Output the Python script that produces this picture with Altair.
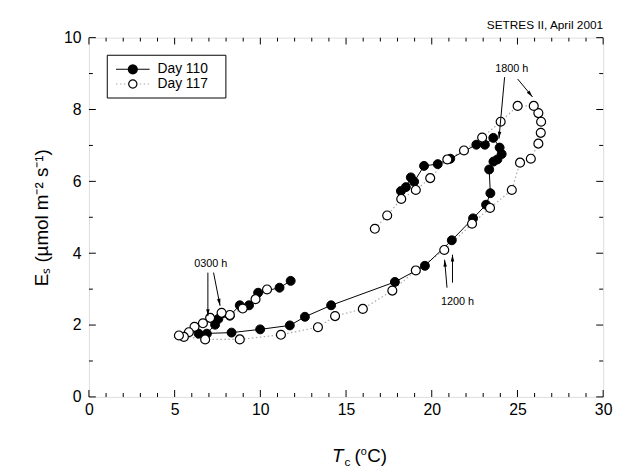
import math
import altair as alt
import pandas as pd

FONT = "Liberation Sans"

# ---- data (canopy temperature Tc in degC, Es in umol m-2 s-1), time order ----
T110 = [11.77, 11.12, 9.87, 9.34, 8.80, 8.22, 7.55, 7.36, 6.88, 6.40,
        8.32, 9.99, 11.72, 12.60, 14.13, 17.85, 19.60, 21.17, 22.41, 23.17,
        23.42, 23.35, 23.60, 23.83, 24.08, 23.96, 23.59, 23.10, 22.60, 21.08,
        20.35, 19.55, 18.97, 18.78, 18.49, 18.20]
E110 = [3.23, 3.04, 2.90, 2.55, 2.55, 2.26, 2.17, 2.01, 1.76, 1.76,
        1.79, 1.88, 1.99, 2.23, 2.55, 3.20, 3.65, 4.36, 4.97, 5.35,
        5.67, 6.33, 6.55, 6.61, 6.76, 6.94, 7.21, 7.02, 7.02, 6.63,
        6.48, 6.43, 5.99, 6.11, 5.84, 5.73]

T117 = [10.39, 9.72, 8.97, 8.22, 7.74, 7.07, 6.65, 6.16, 5.83, 5.54,
        5.25, 6.78, 8.80, 11.20, 13.36, 14.36, 15.98, 17.70, 19.07, 20.73,
        22.35, 23.40, 24.67, 25.15, 25.78, 26.22, 26.36, 26.38, 26.22, 25.95,
        25.01, 24.02, 22.94, 21.88, 20.91, 19.91, 19.07, 18.22, 17.40, 16.68]
E117 = [2.99, 2.72, 2.46, 2.28, 2.34, 2.20, 2.05, 1.95, 1.80, 1.67,
        1.71, 1.60, 1.60, 1.73, 1.94, 2.25, 2.45, 2.96, 3.52, 4.09,
        4.82, 5.26, 5.76, 6.52, 6.63, 7.05, 7.35, 7.66, 7.90, 8.10,
        8.10, 7.66, 7.22, 6.86, 6.61, 6.09, 5.76, 5.51, 5.05, 4.68]

SERIES = ["Day 110", "Day 117"]
X_LABELS = [0, 5, 10, 15, 20, 25, 30]
Y_LABELS = [0, 2, 4, 6, 8, 10]
X_TICKS = list(range(0, 31))
Y_TICKS = list(range(0, 11))
Y_TITLE = "E\u209b (\u00b5mol m\u207b\u00b2 s\u207b\u00b9)"
TOP_NOTE = "SETRES II, April 2001"

ANN_TEXT = ["0300 h", "1200 h", "1800 h"]
ANN_X = [7.11, 21.50, 24.67]
ANN_Y = [3.71, 2.64, 9.12]
ARR_X1 = [6.94, 7.27, 20.89, 21.21, 24.25, 25.01]
ARR_Y1 = [3.46, 3.46, 3.04, 3.18, 8.90, 8.85]
ARR_X2 = [6.94, 7.65, 20.75, 21.21, 23.92, 25.88]
ARR_Y2 = [2.25, 2.54, 3.82, 3.96, 7.19, 8.35]

# ---- layout ----
W, H = 521, 364
XD, YD = [0, 30], [0, 10]
PAD = {"left": 82, "top": 27, "right": 12, "bottom": 70}

xs = alt.Scale(domain=XD, nice=False, zero=False)
ys = alt.Scale(domain=YD, nice=False, zero=False)
xaxis = alt.Axis(values=X_LABELS, ticks=False, domain=False, grid=False, title=None,
                 labelFont=FONT, labelFontSize=16, labelColor="black", labelPadding=5,
                 labelFlush=False)
yaxis = alt.Axis(values=Y_LABELS, ticks=False, domain=False, grid=False, title=Y_TITLE,
                 titleFont=FONT, titleFontSize=19, titleFontWeight="normal", titleColor="black",
                 titlePadding=12,
                 labelFont=FONT, labelFontSize=16, labelColor="black", labelPadding=8,
                 labelFlush=False)


def X(f):
    return alt.X(f, type="quantitative", scale=xs, axis=xaxis)


def Y(f):
    return alt.Y(f, type="quantitative", scale=ys, axis=yaxis)


one = pd.DataFrame({"a": [0]})
d110 = pd.DataFrame({"T": T110, "E": E110, "i": range(len(T110))})
d117 = pd.DataFrame({"T": T117, "E": E117, "i": range(len(T117))})

layers = []

# frame ticks (inward)
MAJ, MIN = 7, 4
xt_maj = [v for v in X_TICKS if v % 5 == 0]
xt_min = [v for v in X_TICKS if v % 5 != 0]
yt_maj = [v for v in Y_TICKS if v % 2 == 0]
yt_min = [v for v in Y_TICKS if v % 2 != 0]
for vals, ln in [(xt_maj, MAJ), (xt_min, MIN)]:
    for c, off in [(YD[0], -ln / 2), (YD[1], ln / 2)]:
        layers.append(alt.Chart(pd.DataFrame({"v": vals, "c": c})).mark_tick(
            orient="vertical", size=ln, thickness=1, yOffset=off, color="black", opacity=1
        ).encode(x=X("v"), y=Y("c")))
for vals, ln in [(yt_maj, MAJ), (yt_min, MIN)]:
    for c, off in [(XD[0], ln / 2), (XD[1], -ln / 2)]:
        layers.append(alt.Chart(pd.DataFrame({"v": vals, "c": c})).mark_tick(
            orient="horizontal", size=ln, thickness=1, xOffset=off, color="black", opacity=1
        ).encode(x=X("c"), y=Y("v")))

# series lines
layers.append(alt.Chart(d117).mark_line(color="#a8a8a8", strokeWidth=1.2, strokeDash=[1.5, 2.5]).encode(
    x=X("T"), y=Y("E"), order="i:Q"))
layers.append(alt.Chart(d110).mark_line(color="black", strokeWidth=1).encode(
    x=X("T"), y=Y("E"), order="i:Q"))
# points
layers.append(alt.Chart(d110).mark_point(shape="circle", filled=True, fill="black", stroke="black",
                                          strokeWidth=1, size=82, opacity=1).encode(x=X("T"), y=Y("E")))
layers.append(alt.Chart(d117).mark_point(shape="circle", filled=True, fill="white", stroke="black",
                                          strokeWidth=1.2, size=82, opacity=1).encode(x=X("T"), y=Y("E")))

# annotations
ann = pd.DataFrame({"t": ANN_TEXT, "x": ANN_X, "y": ANN_Y})
layers.append(alt.Chart(ann).mark_text(font=FONT, fontSize=11, fill="black", align="center",
                                       baseline="middle").encode(x=X("x"), y=Y("y"), text="t:N"))
kx, ky = W / (XD[1] - XD[0]), H / (YD[1] - YD[0])
angs = []
for x1, y1, x2, y2 in zip(ARR_X1, ARR_Y1, ARR_X2, ARR_Y2):
    dx, dy = (x2 - x1) * kx, -(y2 - y1) * ky
    angs.append(math.degrees(math.atan2(dx, -dy)) % 360)
arr = pd.DataFrame({"x1": ARR_X1, "y1": ARR_Y1, "x2": ARR_X2, "y2": ARR_Y2, "ang": angs})
layers.append(alt.Chart(arr).mark_rule(color="black", strokeWidth=1).encode(
    x=X("x1"), y=Y("y1"), x2="x2:Q", y2="y2:Q"))
layers.append(alt.Chart(arr).mark_point(shape="M0,0L0.5,2L-0.5,2Z", filled=True, color="black",
                                        size=49, opacity=1).encode(
    x=X("x2"), y=Y("y2"), angle=alt.Angle("ang:Q", scale=None)))

# legend (in data coordinates, top-left of plot)
LEG_BOX = {"x": 1.07, "x2": 7.99, "y": 9.51, "y2": 8.32}
LEG_ROWS = [9.12, 8.71]
LEG_LINE = (1.58, 3.54)
LEG_MARK = 2.56
LEG_TEXT = 4.0
layers.append(alt.Chart(pd.DataFrame([LEG_BOX])).mark_rect(fill="white", stroke="black", strokeWidth=1).encode(
    x=X("x"), x2="x2:Q", y=Y("y"), y2="y2:Q"))
leg1 = pd.DataFrame({"x1": [LEG_LINE[0]], "x2": [LEG_LINE[1]], "y": [LEG_ROWS[0]], "xm": [LEG_MARK],
                     "xt": [LEG_TEXT], "t": [SERIES[0]]})
leg2 = pd.DataFrame({"x1": [LEG_LINE[0]], "x2": [LEG_LINE[1]], "y": [LEG_ROWS[1]], "xm": [LEG_MARK],
                     "xt": [LEG_TEXT], "t": [SERIES[1]]})
layers.append(alt.Chart(leg1).mark_rule(color="black", strokeWidth=1).encode(x=X("x1"), x2="x2:Q", y=Y("y")))
layers.append(alt.Chart(leg2).mark_rule(color="#a8a8a8", strokeWidth=1.2, strokeDash=[1.5, 2.5]).encode(
    x=X("x1"), x2="x2:Q", y=Y("y")))
layers.append(alt.Chart(leg1).mark_point(shape="circle", filled=True, fill="black", stroke="black",
                                         size=70, opacity=1).encode(x=X("xm"), y=Y("y")))
layers.append(alt.Chart(leg2).mark_point(shape="circle", filled=True, fill="white", stroke="black",
                                         strokeWidth=1.2, size=70, opacity=1).encode(x=X("xm"), y=Y("y")))
for lg in (leg1, leg2):
    layers.append(alt.Chart(lg).mark_text(font=FONT, fontSize=14, fill="black", align="left",
                                          baseline="middle").encode(x=X("xt"), y=Y("y"), text="t:N"))


def piece(text, x, y, size, style="normal", align="left"):
    return alt.Chart(one).mark_text(text=text, font=FONT, fontSize=size, fontStyle=style, fill="black",
                                    align=align, baseline="alphabetic").encode(x=alt.value(x), y=alt.value(y))


# top-right note
layers.append(piece(TOP_NOTE, W, -9, 12, align="right"))

# x title:  T_c (°C)
XT_BASE = 430
layers += [
    piece("T", 258, XT_BASE, 19, style="italic", align="right"),
    piece("c", 259, XT_BASE + 4, 12),
    piece("(", 269, XT_BASE, 19),
    piece("o", 275.5, XT_BASE - 7, 11),
    piece("C)", 282, XT_BASE, 19),
]

chart = alt.layer(*layers).properties(
    width=W, height=H,
    padding=PAD,
    autosize=alt.AutoSizeParams(type="none"),
).configure_view(stroke="black", strokeWidth=1).configure(background="white")

chart.save("out.html", embed_options={"renderer": "svg", "actions": False})
